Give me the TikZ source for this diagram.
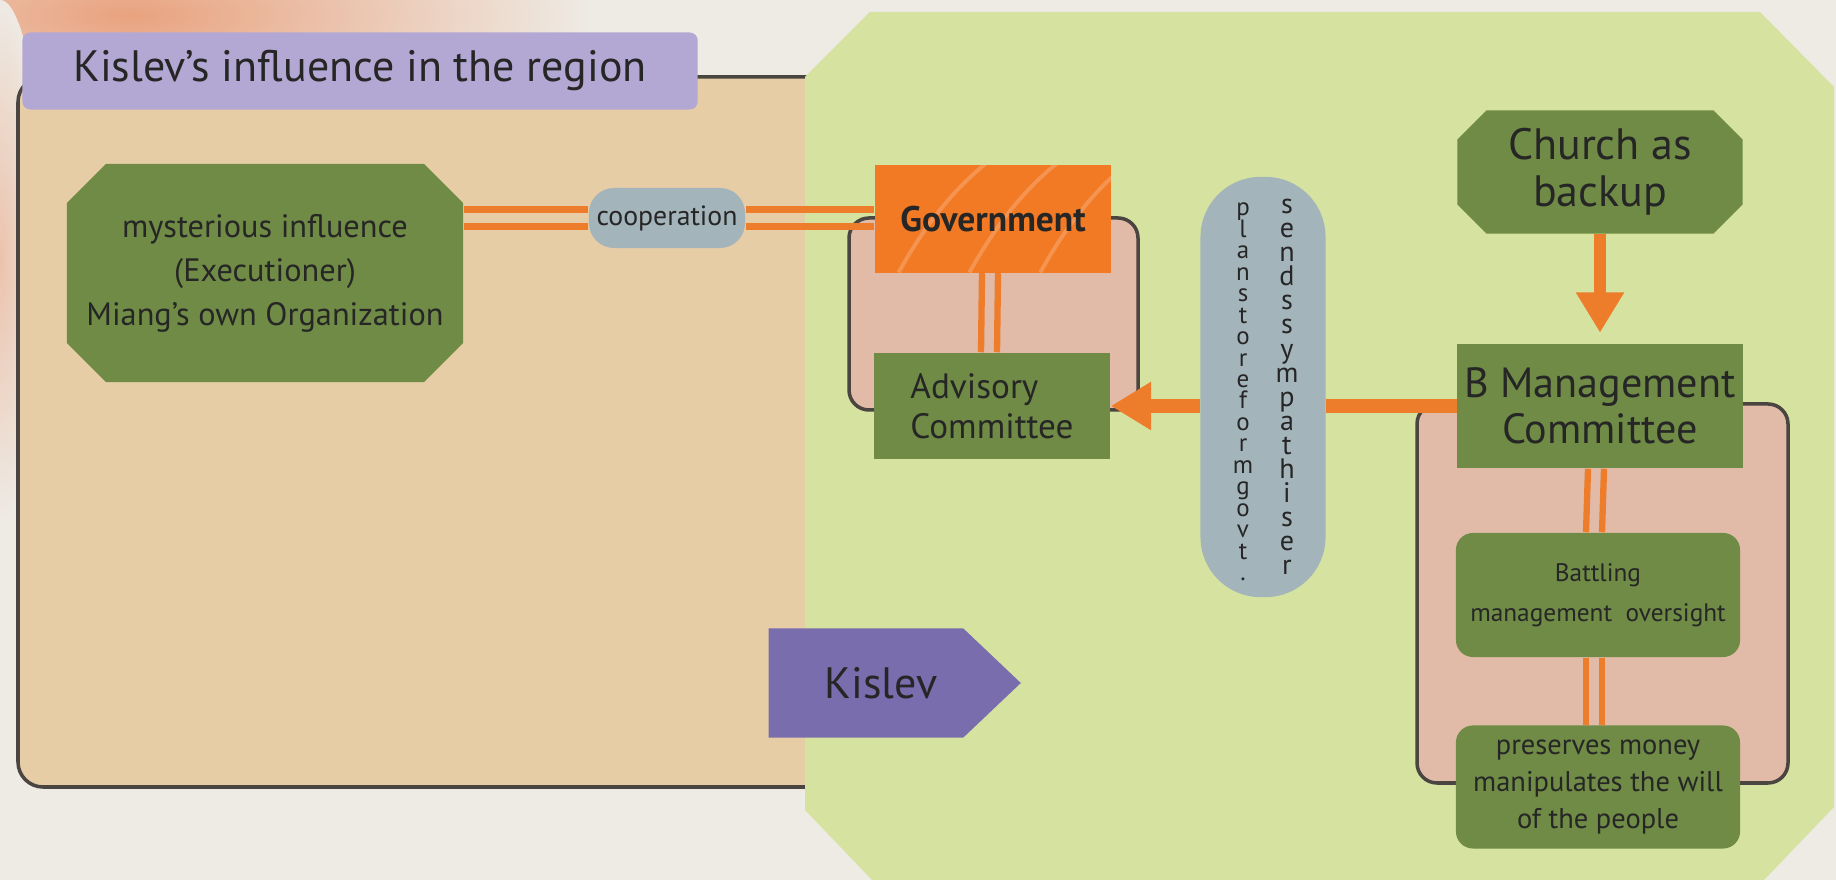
\documentclass[tikz,border=0pt]{standalone}
\usepackage{fontspec}
\setmainfont{PT Sans}
\usetikzlibrary{shapes.symbols,arrows.meta,positioning,calc}
\lineskiplimit=-20pt
\definecolor{pagebg}{HTML}{EEEAE4}
\definecolor{warmglow}{HTML}{E9A27E}
\definecolor{tanbg}{HTML}{E6CDA6}
\definecolor{limebg}{HTML}{D6E3A0}
\definecolor{olive}{HTML}{6F8B45}
\definecolor{pinkbg}{HTML}{E1BBA8}
\definecolor{lineorange}{HTML}{EE7D2B}
\definecolor{govorange}{HTML}{F27A25}
\definecolor{pillgray}{HTML}{A4B4BB}
\definecolor{lavender}{HTML}{B3A8D3}
\definecolor{tagpurple}{HTML}{7A6DAE}
\definecolor{edgegray}{HTML}{4A4540}
\definecolor{ink}{HTML}{262626}
\tikzset{
  panel/.style={draw=edgegray, line width=1pt},
  titlebox/.style={fill=lavender, rounded corners=0.08cm, text=ink, minimum width=6.75cm, minimum height=0.77cm, font=\fontsize{12.5}{14}\selectfont},
  olivebox/.style={fill=olive, text=ink, inner sep=0pt, align=center},
  octbox/.style={olivebox, fill=none, path picture={
    \coordinate (nw) at (path picture bounding box.north west);
    \coordinate (se) at (path picture bounding box.south east);
    \fill[olive] ($(nw)+(#1,0)$) -- ($(se|-nw)+(-#1,0)$) -- ($(se|-nw)+(0,#1)$) -- ($(se)+(0,-#1)$)
      -- ($(se)+(-#1,0)$) -- ($(nw|-se)+(#1,0)$) -- ($(nw|-se)+(0,-#1)$) -- ($(nw)+(0,#1)$) -- cycle;}},
  roundbox/.style={olivebox, rounded corners=0.17cm},
  pill/.style={fill=pillgray, text=ink, inner sep=0pt, align=center},
  govbox/.style={fill=govorange, text=ink, inner sep=0pt, font=\bfseries\fontsize{10.1}{12}\selectfont,
    path picture={\foreach \k in {0.1,0.4,0.7}{\draw[white, opacity=0.2, line width=1.1pt]
      ($(path picture bounding box.south west)!\k!(path picture bounding box.south east)$)
      .. controls +(25,-45) and +(-40,30) .. +(95,-115);}}},
  letters/.style={text=ink, inner sep=0pt, align=center},
  twin/.style={draw=lineorange, line width=1.8pt},
  fatline/.style={draw=lineorange, line width=3.8pt},
  fatarrow/.style={fatline, -{Triangle[length=11.5pt,width=13pt]}},
  kislevtag/.style={signal, signal to=east, signal pointer angle=87, fill=tagpurple, text=ink, inner sep=0pt,
    minimum width=2.52cm, minimum height=1.09cm, font=\fontsize{12.5}{14}\selectfont}
}
\begin{document}
\begin{tikzpicture}[x=0.01cm,y=-0.01cm]
  \useasboundingbox (0,0) rectangle (1836,880);
  \fill[pagebg] (0,0) rectangle (1836,880);
  \shade[inner color=warmglow, outer color=pagebg] (130,15) ellipse [x radius=460, y radius=130];
  \shade[inner color=warmglow!55!pagebg, outer color=pagebg] (0,260) ellipse [x radius=45, y radius=260];
  \draw[panel, fill=tanbg, rounded corners=0.25cm] (18,77) rectangle (900,787);
  \fill[limebg] (870,12) -- (1760,12) -- (1834,87) -- (1834,807) -- (1764,880) -- (872,880) -- (805,810) -- (805,77) -- cycle;
  \node[titlebox] (title) at (360,71) {Kislev’s influence in the region};
  \draw[panel, fill=pinkbg, rounded corners=0.2cm] (849,218) rectangle (1138,410);
  \draw[panel, fill=pinkbg, rounded corners=0.2cm] (1417,404) rectangle (1788,783);

  \node[octbox=39, minimum width=3.96cm, minimum height=2.18cm, font=\fontsize{9.2}{12.5}\selectfont] (mys) at (265,273)
    {mysterious influence\\(Executioner)\\Miang’s own Organization};
  \node[pill, rounded corners=0.25cm, minimum width=1.56cm, minimum height=0.6cm, font=\fontsize{7.9}{9}\selectfont] (coop) at (667,218) {cooperation};
  \node[govbox, minimum width=2.36cm, minimum height=1.07cm] (gov) at (993,219) {Government};
  \node[olivebox, minimum width=2.36cm, minimum height=1.06cm, align=left, font=\fontsize{10}{11.5}\selectfont] (adv) at (992,406) {Advisory\\Committee};
  \node[pill, rounded corners=0.6cm, minimum width=1.25cm, minimum height=4.2cm] (sym) at (1263,387) {};
  \node[letters, font=\fontsize{7.1}{6.1}\selectfont] (plans) at (1243,392)
    {p\\l\\a\\n\\s\\t\\o\\r\\e\\f\\o\\r\\m\\g\\o\\v\\t\\.};
  \node[letters, font=\fontsize{8}{6.85}\selectfont] (sends) at (1287,387)
    {s\\e\\n\\d\\s\\s\\y\\m\\p\\a\\t\\h\\i\\s\\e\\r};
  \node[octbox=29, minimum width=2.85cm, minimum height=1.23cm, font=\fontsize{12.5}{13.5}\selectfont] (church) at (1600,172) {Church as\\backup};
  \node[olivebox, minimum width=2.85cm, minimum height=1.24cm, font=\fontsize{12}{13}\selectfont] (bmc) at (1600,406) {B Management\\Committee};
  \node[roundbox, minimum width=2.84cm, minimum height=1.24cm, font=\fontsize{7.2}{11.4}\selectfont] (bat) at (1598,595) {Battling\\management\ \ oversight};
  \node[roundbox, minimum width=2.84cm, minimum height=1.23cm, font=\fontsize{8.1}{10.5}\selectfont] (pres) at (1598,787) {preserves money\\manipulates the will\\of the people};
  \node[kislevtag] (kis) at (866,683) {\hspace*{0.3cm}Kislev};

  \foreach \s in {-8.5,8.5}{
    \draw[twin] ($(coop.west -| mys.east)+(0,\s)$) -- ($(coop.west)+(0,\s)$);
    \draw[twin] ($(coop.east)+(0,\s)$) -- ($(coop.east -| gov.west)+(0,\s)$);}
  \foreach \s in {-8,8}{
    \draw[twin] ($(gov.south)+(\s-3,0)$) -- ($(adv.north)+(\s-3,0)$);
    \draw[twin] ($(bmc.south)+(\s-4,0)$) -- ($(bat.north)+(\s-4,0)$);
    \draw[twin] ($(bat.south)+(\s-4,0)$) -- ($(pres.north)+(\s-4,0)$);}
  \draw[fatline] (bmc.west) -- (bmc.west -| sym.east);
  \draw[fatarrow] (adv.east -| sym.west) -- (adv.east);
  \draw[fatarrow, line width=3.4pt, shorten >=3pt] (church.south) -- (bmc.north);
\end{tikzpicture}
\end{document}
